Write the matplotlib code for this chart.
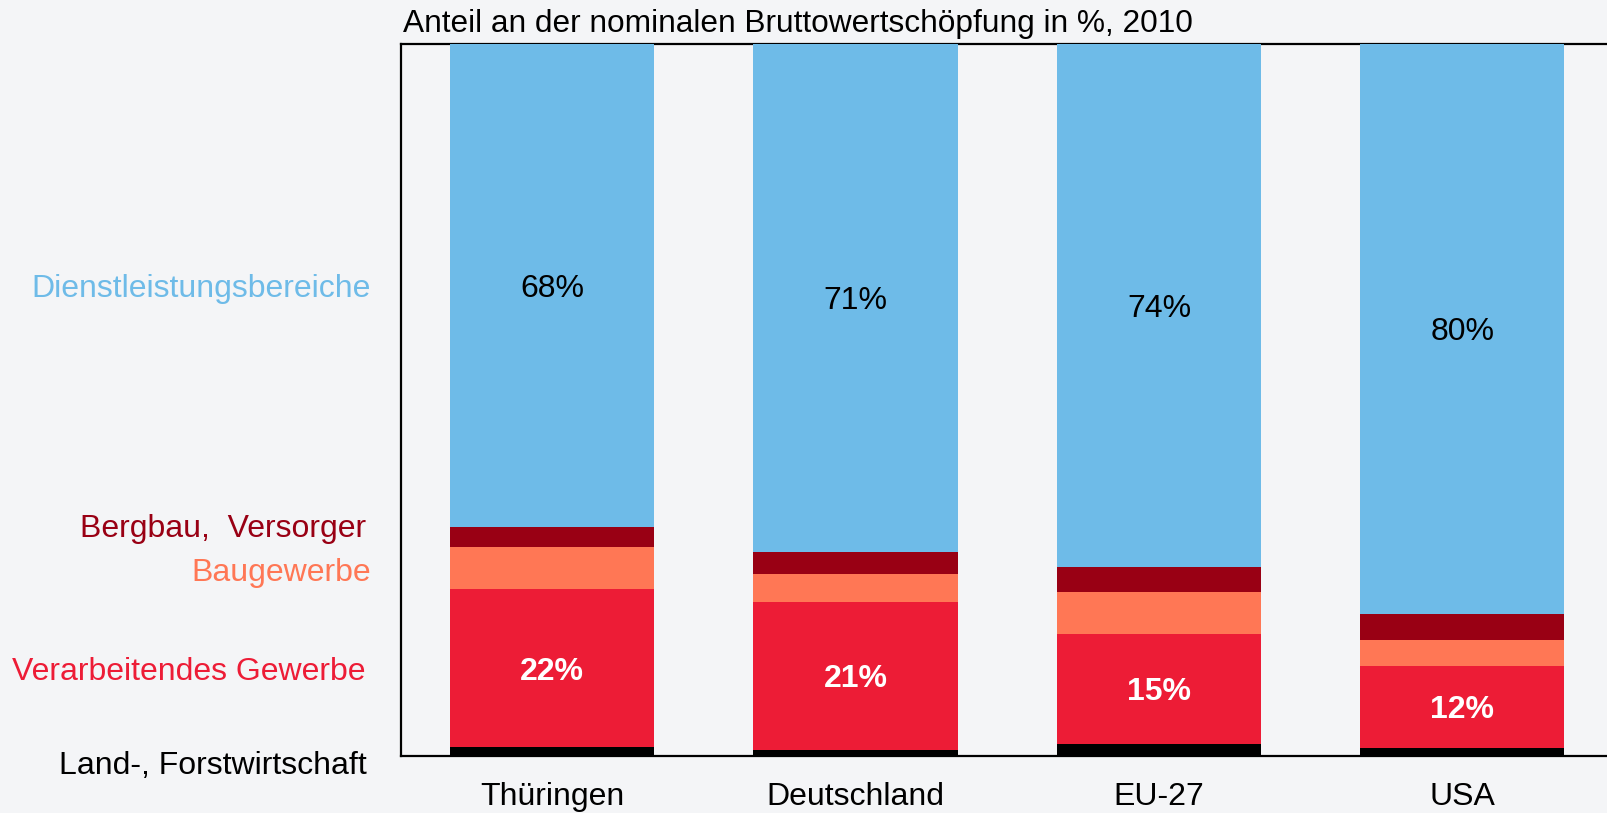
import matplotlib
matplotlib.use("Agg")
import matplotlib.pyplot as plt
import numpy as np

plt.rcParams['font.family'] = ['Liberation Sans', 'DejaVu Sans']

regions = ["Thüringen", "Deutschland", "EU-27", "USA"]
land = [1.4, 1.0, 1.9, 1.3]
verarbeitend = [22.1, 20.8, 15.4, 11.5]
bau = [5.9, 3.9, 5.9, 3.6]
bergbau = [2.8, 3.1, 3.4, 3.6]
dienst = [67.8, 71.2, 73.4, 80.0]
dienst_labels = ["68%", "71%", "74%", "80%"]
verarb_labels = ["22%", "21%", "15%", "12%"]

series_names = ["Land-, Forstwirtschaft", "Verarbeitendes Gewerbe", "Baugewerbe",
                "Bergbau,  Versorger", "Dienstleistungsbereiche"]
colors = ["#000000", "#ED1C36", "#FF7755", "#990014", "#6EBBE8"]
title = "Anteil an der nominalen Bruttowertschöpfung in %, 2010"

bg = "#F4F5F7"
W, H = 1608, 813
fig = plt.figure(figsize=(W / 100, H / 100), dpi=100, facecolor=bg)
ax = fig.add_axes([401 / W, 1 - 756 / H, 1 - 401 / W, (756 - 44) / H])
ax.set_facecolor(bg)

x = np.arange(len(regions))
width = 0.673
bottom = np.zeros(len(regions))
series = [land, verarbeitend, bau, bergbau, dienst]
for vals, c in zip(series, colors):
    ax.bar(x, vals, width, bottom=bottom, color=c, zorder=3, clip_on=False, linewidth=0)
    bottom = bottom + np.array(vals)

ax.set_xlim(-0.498, 3.48)
ax.set_ylim(0.15, 100)

FS = 23
# value labels
for i in range(len(regions)):
    yb = land[i] + verarbeitend[i] + bau[i] + bergbau[i]
    ax.text(x[i], yb + dienst[i] / 2 - 0.4, dienst_labels[i], ha='center', va='center',
            fontsize=FS, color='black', zorder=5)
    ax.text(x[i], land[i] + verarbeitend[i] / 2 - 0.5, verarb_labels[i], ha='center', va='center',
            fontsize=FS, color='white', fontweight='bold', zorder=5)

for s in ['left', 'top', 'bottom']:
    ax.spines[s].set_linewidth(1.6)
    ax.spines[s].set_color('black')
ax.spines['right'].set_visible(False)
ax.set_yticks([])
ax.set_xticks(x)
ax.set_xticklabels(regions, fontsize=FS)
ax.tick_params(axis='x', length=0, pad=19)

# left side category labels
label_y = [766, 672, 573, 529, 289]
label_x = [367, 366, 371, 366, 371]
for name, c, yy, xx in zip(series_names, colors, label_y, label_x):
    fig.text(xx / W, 1 - yy / H, name, ha='right', va='center', fontsize=FS, color=c)

fig.text(403 / W, 1 - 24 / H, title, ha='left', va='center', fontsize=22.8, color='black')

fig.savefig("out.png", dpi=100, facecolor=bg)
